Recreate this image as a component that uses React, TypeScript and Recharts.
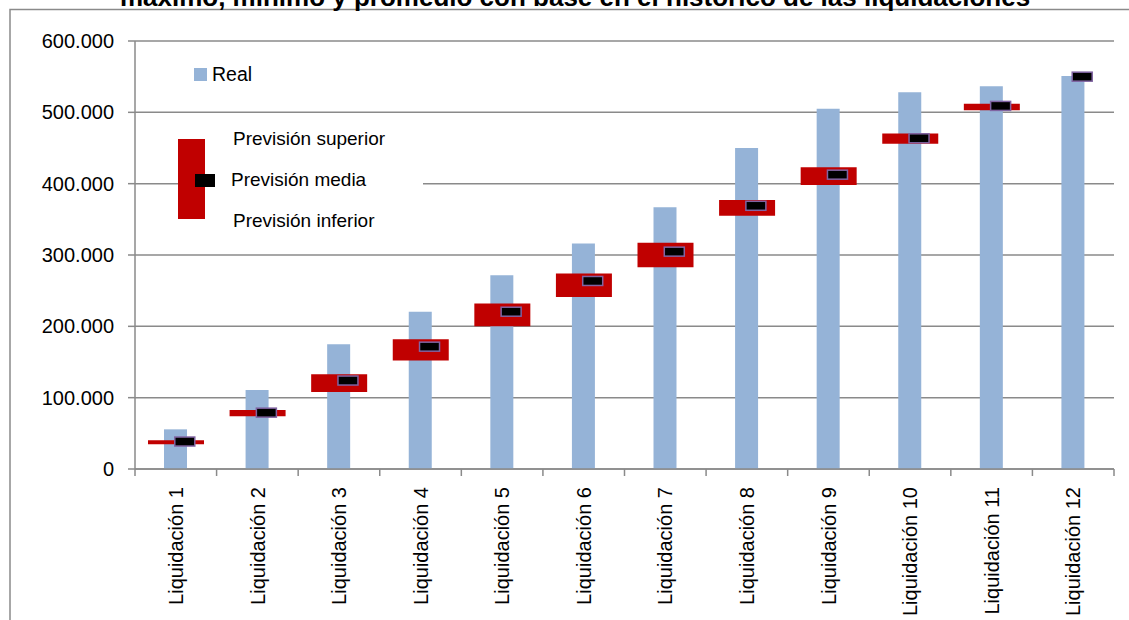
import React from 'react';
import { ComposedChart, Bar, Line, XAxis, YAxis, CartesianGrid } from 'recharts';

const categories = [
  'Liquidación 1', 'Liquidación 2', 'Liquidación 3', 'Liquidación 4',
  'Liquidación 5', 'Liquidación 6', 'Liquidación 7', 'Liquidación 8',
  'Liquidación 9', 'Liquidación 10', 'Liquidación 11', 'Liquidación 12',
];
const real = [55600, 110700, 175000, 220500, 271500, 316000, 367000, 450000, 505000, 528000, 536500, 551000];
const superior = [40200, 82700, 133000, 182000, 232000, 274000, 317000, 377000, 423000, 470500, 512000, 550000];
const inferior = [34600, 74000, 108000, 152000, 200000, 241000, 283000, 355000, 398000, 456000, 503000, 550000];
const media = [38500, 79000, 124000, 171500, 220500, 263600, 304700, 369000, 412600, 463600, 509000, 550000];
const yTicks = [0, 100000, 200000, 300000, 400000, 500000, 600000];

const titleText = 'máximo, mínimo y promedio con base en el histórico de las liquidaciones';
const legendReal = 'Real';
const legendSup = 'Previsión superior';
const legendMed = 'Previsión media';
const legendInf = 'Previsión inferior';

const data = categories.map((name, i) => ({
  name,
  real: real[i],
  rango: [inferior[i], superior[i]],
  media: media[i],
}));

const W = 1129;
const H = 620;
const MARGIN = { top: 41, right: 15, bottom: 0, left: 0 };
const Y_W = 135;
const X_H = 151;
const FONT = '"Liberation Sans", Arial, sans-serif';
const GRAY = '#8A8A8A';

const fmt = (v: number) => (v === 0 ? '0' : String(v).replace(/\B(?=(\d{3})+(?!\d))/g, '.'));

const fallbackBand = (W - MARGIN.left - Y_W - MARGIN.right) / categories.length;

const CatTick = (props: any) => {
  const { x, y, payload, index, visibleTicksCount, width } = props;
  const n = visibleTicksCount || categories.length;
  let bw = Number(width) / n;
  if (!isFinite(bw) || bw <= 0) bw = fallbackBand;
  const ly = y + 18;
  return (
    <g>
      <line x1={x - bw / 2} x2={x - bw / 2} y1={y} y2={y + 7} stroke={GRAY} strokeWidth={1.5} />
      {index === n - 1 && (
        <line x1={x + bw / 2} x2={x + bw / 2} y1={y} y2={y + 7} stroke={GRAY} strokeWidth={1.5} />
      )}
      <text
        x={x}
        y={ly}
        transform={`rotate(-90 ${x} ${ly})`}
        textAnchor="end"
        dy="0.36em"
        fontSize={20}
        fontFamily={FONT}
        fill="#000"
      >
        {payload.value}
      </text>
    </g>
  );
};

const MeanMarker = (props: any) => {
  const { cx, cy, index } = props;
  if (cx == null || cy == null) return <g key={`m${index}`} />;
  return (
    <rect
      key={`m${index}`}
      x={cx - 1}
      y={cy - 4.5}
      width={20}
      height={9}
      fill="#000"
      stroke="#8064A2"
      strokeWidth={1.5}
    />
  );
};

export default function App() {
  return (
    <div style={{ position: 'absolute', left: 0, top: 0, width: W, height: H, background: '#fff' }}>
      <ComposedChart width={W} height={H} data={data} margin={MARGIN}>
        <CartesianGrid vertical={false} stroke={GRAY} strokeWidth={1.5} />
        <XAxis
          xAxisId="a"
          dataKey="name"
          interval={0}
          height={X_H}
          tickLine={false}
          tickSize={0}
          tickMargin={0}
          axisLine={{ stroke: GRAY, strokeWidth: 1.5 }}
          tick={<CatTick />}
        />
        <XAxis xAxisId="b" dataKey="name" hide />
        <YAxis
          width={Y_W}
          domain={[0, 600000]}
          ticks={yTicks}
          interval={0}
          tickFormatter={fmt}
          tickSize={7}
          tickMargin={14}
          axisLine={{ stroke: GRAY, strokeWidth: 1.5 }}
          tickLine={{ stroke: GRAY, strokeWidth: 1.5 }}
          tick={{ fontSize: 20, fontFamily: FONT, fill: '#000' }}
        />
        <Bar xAxisId="a" dataKey="real" barSize={23} fill="#95B3D7" isAnimationActive={false} />
        <Bar xAxisId="b" dataKey="rango" barSize={56} fill="#C00000" isAnimationActive={false} />
        <Line
          xAxisId="b"
          dataKey="media"
          stroke="none"
          dot={MeanMarker}
          activeDot={false}
          isAnimationActive={false}
        />
      </ComposedChart>
      <svg
        width={W}
        height={H}
        style={{ position: 'absolute', left: 0, top: 0, pointerEvents: 'none' }}
      >
        <rect x={10} y={9.5} width={1300} height={800} fill="none" stroke={GRAY} strokeWidth={1.5} />
        <text x={575} y={6} textAnchor="middle" fontSize={26} fontWeight="bold" fontFamily={FONT} fill="#000">
          {titleText}
        </text>
        <rect x={194} y={68} width={13} height={13} fill="#95B3D7" />
        <text x={212} y={81} fontSize={19.5} fontFamily={FONT} fill="#000">{legendReal}</text>
        <rect x={205} y={122} width={218} height={112} fill="#fff" />
        <rect x={178} y={139} width={27} height={80} fill="#C00000" />
        <rect x={195} y={174} width={20} height={13} fill="#000" />
        <text x={233} y={145} fontSize={19} fontFamily={FONT} fill="#000">{legendSup}</text>
        <text x={231} y={186} fontSize={19} fontFamily={FONT} fill="#000">{legendMed}</text>
        <text x={233} y={227} fontSize={19} fontFamily={FONT} fill="#000">{legendInf}</text>
      </svg>
    </div>
  );
}
